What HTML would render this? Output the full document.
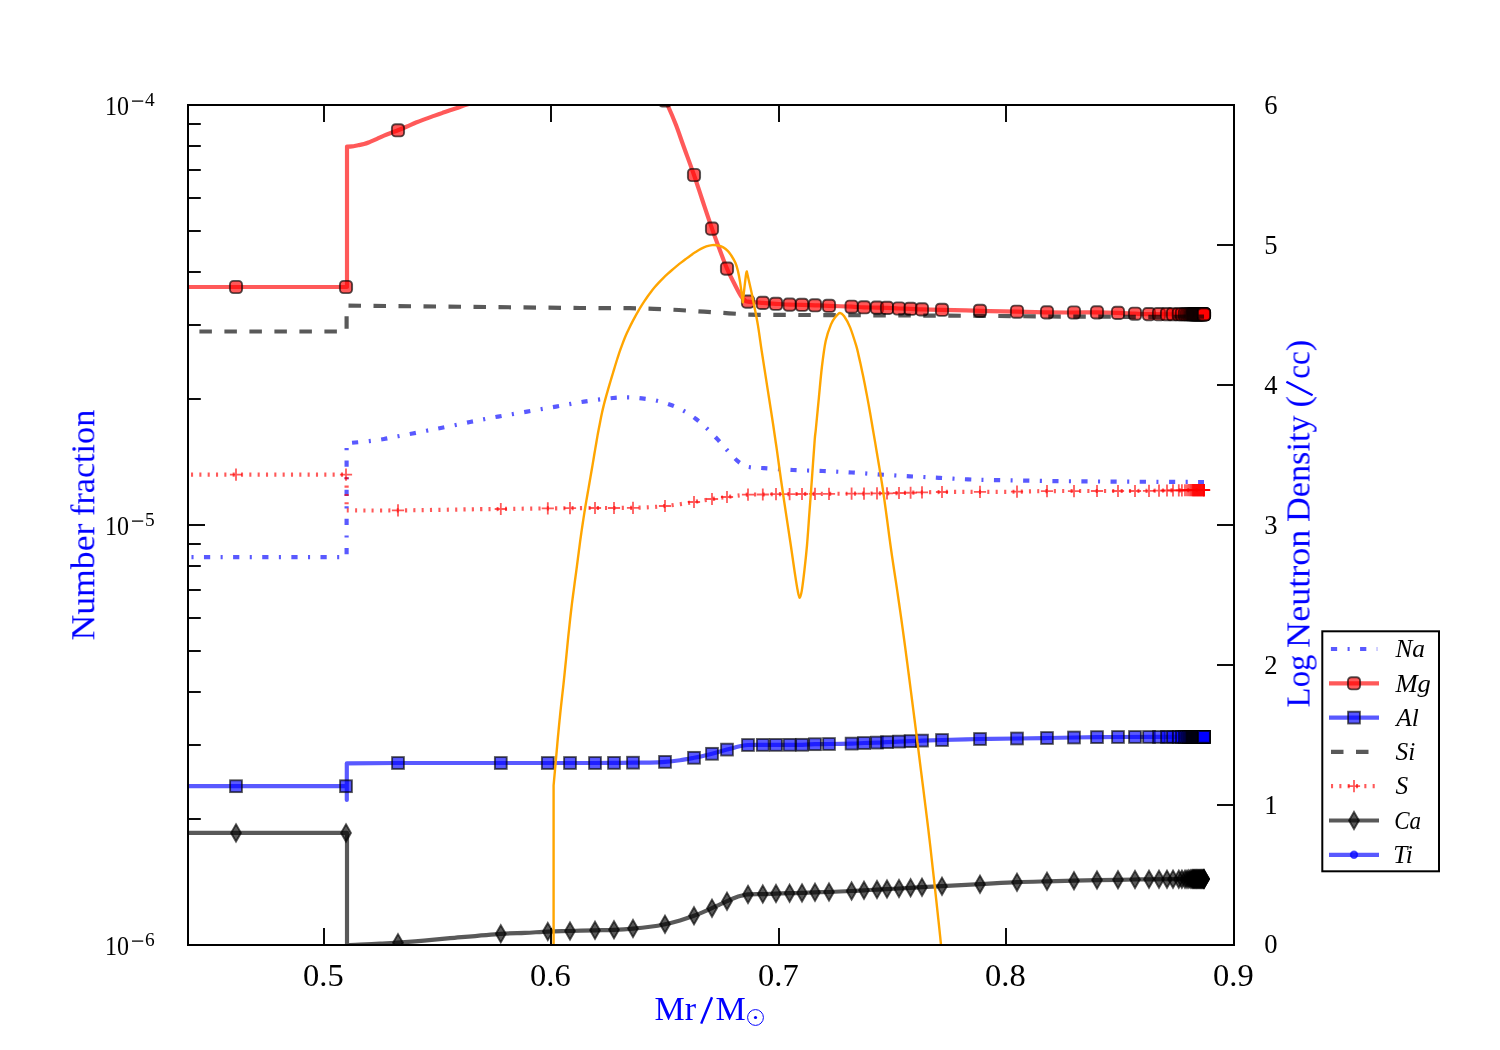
<!DOCTYPE html>
<html lang="en">
<head>
<meta charset="utf-8">
<title>Number fraction vs Mr/M</title>
<style>
html,body{margin:0;padding:0;background:#fff;}
body{width:1500px;height:1050px;overflow:hidden;font-family:"Liberation Serif",serif;}
svg{display:block;will-change:transform;}
text{font-family:"Liberation Serif",serif;}
</style>
</head>
<body>
<svg width="1500" height="1050" viewBox="0 0 1500 1050">
<rect width="1500" height="1050" fill="#fff"/>
<defs><clipPath id="ax"><rect x="188" y="105" width="1046" height="840"/></clipPath></defs>
<g clip-path="url(#ax)" fill="none" stroke-linejoin="round">
<!-- Na -->
<path d="M188,557.2L346.6,557.2L346.6,443.3C348,443.17 351.22,442.87 355,442.5C358.78,442.13 364.47,441.68 369.3,441.1C374.13,440.52 379.22,439.8 384,439C388.78,438.2 393.23,437.22 398,436.3C402.77,435.38 407.82,434.43 412.6,433.5C417.38,432.57 421.8,431.65 426.7,430.7C431.6,429.75 434.78,429.25 442,427.8C449.22,426.35 460.67,423.87 470,422C479.33,420.13 488.5,418.33 498,416.6C507.5,414.87 517.33,413.27 527,411.6C536.67,409.93 546.5,408.27 556,406.6C565.5,404.93 574.5,403.03 584,401.6C593.5,400.17 605.67,398.7 613,398C620.33,397.3 623.17,397.33 628,397.4C632.83,397.47 637.17,397.83 642,398.4C646.83,398.97 652.17,399.7 657,400.8C661.83,401.9 666.5,403.3 671,405C675.5,406.7 679.83,408.67 684,411C688.17,413.33 692.17,416.07 696,419C699.83,421.93 703.4,425.2 707,428.6C710.6,432 714.27,435.83 717.6,439.4C720.93,442.97 723.77,446.48 727,450C730.23,453.52 734.17,457.95 737,460.5C739.83,463.05 741.83,464.18 744,465.3C746.17,466.42 746.67,466.72 750,467.2C753.33,467.68 756.83,467.73 764,468.2C771.17,468.67 783.17,469.53 793,470C802.83,470.47 813.17,470.58 823,471C832.83,471.42 842.33,471.9 852,472.5C861.67,473.1 871.33,473.97 881,474.6C890.67,475.23 900.33,475.77 910,476.3C919.67,476.83 929.33,477.28 939,477.8C948.67,478.32 958.33,479.02 968,479.4C977.67,479.78 982.5,479.82 997,480.1C1011.5,480.38 1035.67,480.85 1055,481.1C1074.33,481.35 1093.5,481.47 1113,481.6C1132.5,481.73 1156.83,481.83 1172,481.9C1187.17,481.97 1198.67,481.98 1204,482" stroke="#00f" stroke-opacity="0.65" stroke-width="4.17" stroke-dasharray="6.24 10.405 2.08 10.405" stroke-dashoffset="13.17"/>
<!-- Mg -->
<path d="M186,287L347,287L347,146.6C347.83,146.57 350.17,146.63 352,146.4C353.83,146.17 356,145.58 358,145.2C360,144.82 362,144.65 364,144.1C366,143.55 367.83,142.77 370,141.9C372.17,141.03 374.67,139.93 377,138.9C379.33,137.87 381.67,136.7 384,135.7C386.33,134.7 388.67,133.8 391,132.9C393.33,132 395.33,131.37 398,130.3C400.67,129.23 404,127.8 407,126.5C410,125.2 413,123.73 416,122.5C419,121.27 422,120.2 425,119.1C428,118 431.17,116.9 434,115.9C436.83,114.9 439.33,114.03 442,113.1C444.67,112.17 447.33,111.2 450,110.3C452.67,109.4 455.17,108.65 458,107.7C460.83,106.75 463.33,105.72 467,104.6C470.67,103.48 474.5,102.43 480,101C485.5,99.57 491.67,97.83 500,96C508.33,94.17 520,91.67 530,90C540,88.33 550,86.83 560,86C570,85.17 580,84.83 590,85C600,85.17 610.83,85.83 620,87C629.17,88.17 638.67,90.42 645,92C651.33,93.58 654.67,95.08 658,96.5C661.33,97.92 663.33,98.92 665,100.5C666.67,102.08 666.17,101.92 668,106C669.83,110.08 673.42,118.33 676,125C678.58,131.67 680.5,137.67 683.5,146C686.5,154.33 690.92,166.17 694,175C697.08,183.83 699,190.07 702,199C705,207.93 709,220.02 712,228.6C715,237.18 717.5,243.83 720,250.5C722.5,257.17 724.5,262.85 727,268.6C729.5,274.35 732.67,280.43 735,285C737.33,289.57 739.33,293.45 741,296C742.67,298.55 743.83,299.37 745,300.3C746.17,301.23 745,301.17 748,301.6C751,302.03 758.33,302.53 763,302.9C767.67,303.27 771.57,303.52 776,303.8C780.43,304.08 785.27,304.43 789.6,304.6C793.93,304.77 797.77,304.68 802,304.8C806.23,304.92 810.5,305.13 815,305.3C819.5,305.47 822.9,305.57 829,305.8C835.1,306.03 845.77,306.45 851.6,306.7C857.43,306.95 859.77,307.15 864,307.3C868.23,307.45 873.17,307.5 877,307.6C880.83,307.7 883.33,307.75 887,307.9C890.67,308.05 895.07,308.35 899,308.5C902.93,308.65 906.77,308.65 910.6,308.8C914.43,308.95 916.77,309.23 922,309.4C927.23,309.57 932.33,309.57 942,309.8C951.67,310.03 967.5,310.48 980,310.8C992.5,311.12 1005.83,311.43 1017,311.7C1028.17,311.97 1037.5,312.27 1047,312.4C1056.5,312.53 1065.67,312.5 1074,312.5C1082.33,312.5 1089.67,312.33 1097,312.4C1104.33,312.47 1111.67,312.68 1118,312.9C1124.33,313.12 1129.83,313.5 1135,313.7C1140.17,313.9 1137.5,314 1149,314.1C1160.5,314.2 1194.83,314.27 1204,314.3" stroke="#f00" stroke-opacity="0.65" stroke-width="4.17"/>
<g fill="#f00" fill-opacity="0.65" stroke="#000" stroke-opacity="0.65" stroke-width="1.9"><rect x="229.9" y="280.9" width="12.2" height="12.2" rx="3.6"/><rect x="339.9" y="280.9" width="12.2" height="12.2" rx="3.6"/><rect x="391.9" y="124.2" width="12.2" height="12.2" rx="3.6"/><rect x="494.7" y="89.74" width="12.2" height="12.2" rx="3.6"/><rect x="541.7" y="81.53" width="12.2" height="12.2" rx="3.6"/><rect x="563.9" y="79.57" width="12.2" height="12.2" rx="3.6"/><rect x="588.9" y="79.23" width="12.2" height="12.2" rx="3.6"/><rect x="607.9" y="80.5" width="12.2" height="12.2" rx="3.6"/><rect x="626.9" y="83.5" width="12.2" height="12.2" rx="3.6"/><rect x="658.9" y="94.4" width="12.2" height="12.2" rx="3.6"/><rect x="687.9" y="168.9" width="12.2" height="12.2" rx="3.6"/><rect x="705.9" y="222.5" width="12.2" height="12.2" rx="3.6"/><rect x="720.9" y="262.5" width="12.2" height="12.2" rx="3.6"/><rect x="741.9" y="295.5" width="12.2" height="12.2" rx="3.6"/><rect x="756.7" y="296.78" width="12.2" height="12.2" rx="3.6"/><rect x="769.9" y="297.7" width="12.2" height="12.2" rx="3.6"/><rect x="783.5" y="298.5" width="12.2" height="12.2" rx="3.6"/><rect x="795.9" y="298.7" width="12.2" height="12.2" rx="3.6"/><rect x="808.9" y="299.2" width="12.2" height="12.2" rx="3.6"/><rect x="822.9" y="299.7" width="12.2" height="12.2" rx="3.6"/><rect x="845.5" y="300.6" width="12.2" height="12.2" rx="3.6"/><rect x="857.9" y="301.2" width="12.2" height="12.2" rx="3.6"/><rect x="870.9" y="301.5" width="12.2" height="12.2" rx="3.6"/><rect x="880.9" y="301.8" width="12.2" height="12.2" rx="3.6"/><rect x="892.9" y="302.4" width="12.2" height="12.2" rx="3.6"/><rect x="904.5" y="302.7" width="12.2" height="12.2" rx="3.6"/><rect x="915.9" y="303.3" width="12.2" height="12.2" rx="3.6"/><rect x="935.9" y="303.7" width="12.2" height="12.2" rx="3.6"/><rect x="973.9" y="304.7" width="12.2" height="12.2" rx="3.6"/><rect x="1010.9" y="305.6" width="12.2" height="12.2" rx="3.6"/><rect x="1040.9" y="306.3" width="12.2" height="12.2" rx="3.6"/><rect x="1067.9" y="306.4" width="12.2" height="12.2" rx="3.6"/><rect x="1090.9" y="306.3" width="12.2" height="12.2" rx="3.6"/><rect x="1111.9" y="306.8" width="12.2" height="12.2" rx="3.6"/><rect x="1128.9" y="307.6" width="12.2" height="12.2" rx="3.6"/><rect x="1142.9" y="308" width="12.2" height="12.2" rx="3.6"/><rect x="1152.9" y="308.04" width="12.2" height="12.2" rx="3.6"/><rect x="1160.9" y="308.07" width="12.2" height="12.2" rx="3.6"/><rect x="1166.9" y="308.09" width="12.2" height="12.2" rx="3.6"/><rect x="1172.7" y="308.11" width="12.2" height="12.2" rx="3.6"/><rect x="1175.8" y="308.12" width="12.2" height="12.2" rx="3.6"/><rect x="1178.9" y="308.13" width="12.2" height="12.2" rx="3.6"/><rect x="1180.9" y="308.14" width="12.2" height="12.2" rx="3.6"/><rect x="1182.7" y="308.14" width="12.2" height="12.2" rx="3.6"/><rect x="1184.2" y="308.15" width="12.2" height="12.2" rx="3.6"/><rect x="1185.4" y="308.15" width="12.2" height="12.2" rx="3.6"/><rect x="1186.3" y="308.16" width="12.2" height="12.2" rx="3.6"/><rect x="1186.85" y="308.16" width="12.2" height="12.2" rx="3.6"/><rect x="1187.4" y="308.16" width="12.2" height="12.2" rx="3.6"/><rect x="1187.95" y="308.16" width="12.2" height="12.2" rx="3.6"/><rect x="1188.5" y="308.17" width="12.2" height="12.2" rx="3.6"/><rect x="1189.05" y="308.17" width="12.2" height="12.2" rx="3.6"/><rect x="1189.6" y="308.17" width="12.2" height="12.2" rx="3.6"/><rect x="1190.15" y="308.17" width="12.2" height="12.2" rx="3.6"/><rect x="1190.7" y="308.17" width="12.2" height="12.2" rx="3.6"/><rect x="1191.25" y="308.18" width="12.2" height="12.2" rx="3.6"/><rect x="1191.8" y="308.18" width="12.2" height="12.2" rx="3.6"/><rect x="1192.35" y="308.18" width="12.2" height="12.2" rx="3.6"/><rect x="1192.9" y="308.18" width="12.2" height="12.2" rx="3.6"/><rect x="1193.45" y="308.18" width="12.2" height="12.2" rx="3.6"/><rect x="1194" y="308.19" width="12.2" height="12.2" rx="3.6"/><rect x="1194.55" y="308.19" width="12.2" height="12.2" rx="3.6"/><rect x="1195.1" y="308.19" width="12.2" height="12.2" rx="3.6"/><rect x="1195.65" y="308.19" width="12.2" height="12.2" rx="3.6"/><rect x="1196.2" y="308.19" width="12.2" height="12.2" rx="3.6"/><rect x="1196.75" y="308.2" width="12.2" height="12.2" rx="3.6"/><rect x="1197.3" y="308.2" width="12.2" height="12.2" rx="3.6"/><rect x="1197.9" y="308.2" width="12.2" height="12.2" rx="3.6"/><rect x="1197.9" y="308.2" width="12.2" height="12.2" rx="3.6"/><rect x="1197.9" y="308.2" width="12.2" height="12.2" rx="3.6"/><rect x="1197.9" y="308.2" width="12.2" height="12.2" rx="3.6"/></g>
<!-- Al -->
<path d="M186,786.2L346.8,786.2L346.8,800L346.8,763.4C355.33,763.33 375.8,763.07 398,763C420.2,762.93 462.87,763 480,763C497.13,763 489.5,763 500.8,763C512.1,763 532.1,763 547.8,763C563.5,763 583.97,763.02 595,763C606.03,762.98 607.67,762.95 614,762.9C620.33,762.85 627,762.75 633,762.7C639,762.65 644.67,762.73 650,762.6C655.33,762.47 660,762.3 665,761.9C670,761.5 675.17,760.88 680,760.2C684.83,759.52 690.17,758.5 694,757.8C697.83,757.1 700,756.67 703,756C706,755.33 709.17,754.53 712,753.8C714.83,753.07 717.5,752.3 720,751.6C722.5,750.9 724.5,750.3 727,749.6C729.5,748.9 732.67,748 735,747.4C737.33,746.8 738.83,746.4 741,746C743.17,745.6 744.37,745.18 748,745C751.63,744.82 758.13,744.92 762.8,744.9C767.47,744.88 769.47,744.92 776,744.9C782.53,744.88 795.5,744.92 802,744.8C808.5,744.68 810.5,744.33 815,744.2C819.5,744.07 822.9,744.1 829,744C835.1,743.9 845.77,743.77 851.6,743.6C857.43,743.43 859.77,743.17 864,743C868.23,742.83 873.17,742.75 877,742.6C880.83,742.45 883.33,742.27 887,742.1C890.67,741.93 895.07,741.77 899,741.6C902.93,741.43 906.77,741.27 910.6,741.1C914.43,740.93 916.77,740.78 922,740.6C927.23,740.42 932.33,740.27 942,740C951.67,739.73 967.5,739.25 980,739C992.5,738.75 1005.83,738.67 1017,738.5C1028.17,738.33 1037.5,738.17 1047,738C1056.5,737.83 1065.67,737.65 1074,737.5C1082.33,737.35 1089.67,737.18 1097,737.1C1104.33,737.02 1100.17,737.03 1118,737C1135.83,736.97 1189.67,736.92 1204,736.9" stroke="#00f" stroke-opacity="0.65" stroke-width="4.17"/>
<g fill="#00f" fill-opacity="0.65" stroke="#000" stroke-opacity="0.65" stroke-width="1.9" stroke-linejoin="miter"><rect x="230.1" y="780.3" width="11.8" height="11.8"/><rect x="340.1" y="780.3" width="11.8" height="11.8"/><rect x="392.1" y="757.1" width="11.8" height="11.8"/><rect x="494.9" y="757.1" width="11.8" height="11.8"/><rect x="541.9" y="757.1" width="11.8" height="11.8"/><rect x="564.1" y="757.1" width="11.8" height="11.8"/><rect x="589.1" y="757.1" width="11.8" height="11.8"/><rect x="608.1" y="757" width="11.8" height="11.8"/><rect x="627.1" y="756.8" width="11.8" height="11.8"/><rect x="659.1" y="756" width="11.8" height="11.8"/><rect x="688.1" y="751.9" width="11.8" height="11.8"/><rect x="706.1" y="747.9" width="11.8" height="11.8"/><rect x="721.1" y="743.7" width="11.8" height="11.8"/><rect x="742.1" y="739.1" width="11.8" height="11.8"/><rect x="756.9" y="739" width="11.8" height="11.8"/><rect x="770.1" y="739" width="11.8" height="11.8"/><rect x="783.7" y="738.95" width="11.8" height="11.8"/><rect x="796.1" y="738.9" width="11.8" height="11.8"/><rect x="809.1" y="738.3" width="11.8" height="11.8"/><rect x="823.1" y="738.1" width="11.8" height="11.8"/><rect x="845.7" y="737.7" width="11.8" height="11.8"/><rect x="858.1" y="737.1" width="11.8" height="11.8"/><rect x="871.1" y="736.7" width="11.8" height="11.8"/><rect x="881.1" y="736.2" width="11.8" height="11.8"/><rect x="893.1" y="735.7" width="11.8" height="11.8"/><rect x="904.7" y="735.2" width="11.8" height="11.8"/><rect x="916.1" y="734.7" width="11.8" height="11.8"/><rect x="936.1" y="734.1" width="11.8" height="11.8"/><rect x="974.1" y="733.1" width="11.8" height="11.8"/><rect x="1011.1" y="732.6" width="11.8" height="11.8"/><rect x="1041.1" y="732.1" width="11.8" height="11.8"/><rect x="1068.1" y="731.6" width="11.8" height="11.8"/><rect x="1091.1" y="731.2" width="11.8" height="11.8"/><rect x="1112.1" y="731.1" width="11.8" height="11.8"/><rect x="1129.1" y="731.08" width="11.8" height="11.8"/><rect x="1143.1" y="731.06" width="11.8" height="11.8"/><rect x="1153.1" y="731.05" width="11.8" height="11.8"/><rect x="1161.1" y="731.04" width="11.8" height="11.8"/><rect x="1167.1" y="731.04" width="11.8" height="11.8"/><rect x="1172.9" y="731.03" width="11.8" height="11.8"/><rect x="1176" y="731.03" width="11.8" height="11.8"/><rect x="1179.1" y="731.02" width="11.8" height="11.8"/><rect x="1181.1" y="731.02" width="11.8" height="11.8"/><rect x="1182.9" y="731.02" width="11.8" height="11.8"/><rect x="1184.4" y="731.02" width="11.8" height="11.8"/><rect x="1185.6" y="731.01" width="11.8" height="11.8"/><rect x="1186.5" y="731.01" width="11.8" height="11.8"/><rect x="1187.05" y="731.01" width="11.8" height="11.8"/><rect x="1187.6" y="731.01" width="11.8" height="11.8"/><rect x="1188.15" y="731.01" width="11.8" height="11.8"/><rect x="1188.7" y="731.01" width="11.8" height="11.8"/><rect x="1189.25" y="731.01" width="11.8" height="11.8"/><rect x="1189.8" y="731.01" width="11.8" height="11.8"/><rect x="1190.35" y="731.01" width="11.8" height="11.8"/><rect x="1190.9" y="731.01" width="11.8" height="11.8"/><rect x="1191.45" y="731.01" width="11.8" height="11.8"/><rect x="1192" y="731.01" width="11.8" height="11.8"/><rect x="1192.55" y="731.01" width="11.8" height="11.8"/><rect x="1193.1" y="731.01" width="11.8" height="11.8"/><rect x="1193.65" y="731.01" width="11.8" height="11.8"/><rect x="1194.2" y="731" width="11.8" height="11.8"/><rect x="1194.75" y="731" width="11.8" height="11.8"/><rect x="1195.3" y="731" width="11.8" height="11.8"/><rect x="1195.85" y="731" width="11.8" height="11.8"/><rect x="1196.4" y="731" width="11.8" height="11.8"/><rect x="1196.95" y="731" width="11.8" height="11.8"/><rect x="1197.5" y="731" width="11.8" height="11.8"/><rect x="1198.1" y="731" width="11.8" height="11.8"/><rect x="1198.1" y="731" width="11.8" height="11.8"/><rect x="1198.1" y="731" width="11.8" height="11.8"/><rect x="1198.1" y="731" width="11.8" height="11.8"/></g>
<!-- Si -->
<path d="M199.4,331.5L346.6,331.5L346.6,305.6L580,308L630,308.2L654,308.8L679,310L704,311.7L729,313.3L748,314.6L760,314.8L980,315.8L1050,316.5L1150,316.9L1204,316.6" stroke="#000" stroke-opacity="0.65" stroke-width="4.17" stroke-dasharray="12.5 12.5"/>
<!-- S -->
<path d="M191,474.6L346.6,474.6L346.6,510.4C355.17,510.4 375.77,510.6 398,510.4C420.23,510.2 462.87,509.43 480,509.2C497.13,508.97 489.5,509.13 500.8,509C512.1,508.87 536.27,508.53 547.8,508.4C559.33,508.27 562.13,508.27 570,508.2C577.87,508.13 587.67,508.03 595,508C602.33,507.97 607.67,508.03 614,508C620.33,507.97 627,507.93 633,507.8C639,507.67 644.67,507.5 650,507.2C655.33,506.9 660,506.5 665,506C670,505.5 675.17,504.87 680,504.2C684.83,503.53 688.67,502.87 694,502C699.33,501.13 706.5,499.83 712,499C717.5,498.17 722.33,497.6 727,497C731.67,496.4 736.5,495.8 740,495.4C743.5,495 744.17,494.75 748,494.6C751.83,494.45 758.33,494.57 763,494.5C767.67,494.43 765,494.32 776,494.2C787,494.08 816.4,493.88 829,493.8C841.6,493.72 841.93,493.78 851.6,493.7C861.27,493.62 871.93,493.58 887,493.3C902.07,493.02 926.5,492.23 942,492C957.5,491.77 967.5,491.95 980,491.9C992.5,491.85 1005.83,491.83 1017,491.7C1028.17,491.57 1033.67,491.22 1047,491.1C1060.33,490.98 1085.17,491.02 1097,491C1108.83,490.98 1111.67,491 1118,491C1124.33,491 1129.83,491.03 1135,491C1140.17,490.97 1142.67,490.9 1149,490.8C1155.33,490.7 1163.83,490.52 1173,490.4C1182.17,490.27 1198.83,490.11 1204,490.05" stroke="#f00" stroke-opacity="0.65" stroke-width="4.17" stroke-dasharray="2.08 6.25"/>
<g stroke="#f00" stroke-opacity="0.65" stroke-width="1.8"><path d="M229.9,474.6H242.1M236,468.5V480.7"/><path d="M339.9,474.6H352.1M346,468.5V480.7"/><path d="M391.9,510.4H404.1M398,504.3V516.5"/><path d="M494.7,509H506.9M500.8,502.9V515.1"/><path d="M541.7,508.4H553.9M547.8,502.3V514.5"/><path d="M563.9,508.2H576.1M570,502.1V514.3"/><path d="M588.9,508H601.1M595,501.9V514.1"/><path d="M607.9,508H620.1M614,501.9V514.1"/><path d="M626.9,507.8H639.1M633,501.7V513.9"/><path d="M658.9,506H671.1M665,499.9V512.1"/><path d="M687.9,502H700.1M694,495.9V508.1"/><path d="M705.9,499H718.1M712,492.9V505.1"/><path d="M720.9,497H733.1M727,490.9V503.1"/><path d="M741.9,494.6H754.1M748,488.5V500.7"/><path d="M756.7,494.5H768.9M762.8,488.4V500.6"/><path d="M769.9,494.2H782.1M776,488.1V500.3"/><path d="M783.5,494.1H795.7M789.6,488V500.2"/><path d="M795.9,494H808.1M802,487.9V500.1"/><path d="M808.9,493.91H821.1M815,487.81V500.01"/><path d="M822.9,493.8H835.1M829,487.7V499.9"/><path d="M845.5,493.7H857.7M851.6,487.6V499.8"/><path d="M857.9,493.56H870.1M864,487.46V499.66"/><path d="M870.9,493.41H883.1M877,487.31V499.51"/><path d="M880.9,493.3H893.1M887,487.2V499.4"/><path d="M892.9,493.02H905.1M899,486.92V499.12"/><path d="M904.5,492.74H916.7M910.6,486.64V498.84"/><path d="M915.9,492.47H928.1M922,486.37V498.57"/><path d="M935.9,492H948.1M942,485.9V498.1"/><path d="M973.9,491.9H986.1M980,485.8V498"/><path d="M1010.9,491.7H1023.1M1017,485.6V497.8"/><path d="M1040.9,491.1H1053.1M1047,485V497.2"/><path d="M1067.9,491.05H1080.1M1074,484.95V497.15"/><path d="M1090.9,491H1103.1M1097,484.9V497.1"/><path d="M1111.9,491H1124.1M1118,484.9V497.1"/><path d="M1128.9,491H1141.1M1135,484.9V497.1"/><path d="M1142.9,490.8H1155.1M1149,484.7V496.9"/><path d="M1152.9,490.63H1165.1M1159,484.53V496.73"/><path d="M1160.9,490.5H1173.1M1167,484.4V496.6"/><path d="M1166.9,490.4H1179.1M1173,484.3V496.5"/><path d="M1172.7,490.33H1184.9M1178.8,484.23V496.43"/><path d="M1175.8,490.3H1188M1181.9,484.2V496.4"/><path d="M1178.9,490.26H1191.1M1185,484.16V496.36"/><path d="M1180.9,490.24H1193.1M1187,484.14V496.34"/><path d="M1182.7,490.22H1194.9M1188.8,484.12V496.32"/><path d="M1184.2,490.2H1196.4M1190.3,484.1V496.3"/><path d="M1185.4,490.19H1197.6M1191.5,484.09V496.29"/><path d="M1186.3,490.18H1198.5M1192.4,484.08V496.28"/><path d="M1186.85,490.17H1199.05M1192.95,484.07V496.27"/><path d="M1187.4,490.17H1199.6M1193.5,484.07V496.27"/><path d="M1187.95,490.16H1200.15M1194.05,484.06V496.26"/><path d="M1188.5,490.16H1200.7M1194.6,484.06V496.26"/><path d="M1189.05,490.15H1201.25M1195.15,484.05V496.25"/><path d="M1189.6,490.14H1201.8M1195.7,484.04V496.24"/><path d="M1190.15,490.14H1202.35M1196.25,484.04V496.24"/><path d="M1190.7,490.13H1202.9M1196.8,484.03V496.23"/><path d="M1191.25,490.13H1203.45M1197.35,484.03V496.23"/><path d="M1191.8,490.12H1204M1197.9,484.02V496.22"/><path d="M1192.35,490.11H1204.55M1198.45,484.01V496.21"/><path d="M1192.9,490.11H1205.1M1199,484.01V496.21"/><path d="M1193.45,490.1H1205.65M1199.55,484V496.2"/><path d="M1194,490.09H1206.2M1200.1,483.99V496.19"/><path d="M1194.55,490.09H1206.75M1200.65,483.99V496.19"/><path d="M1195.1,490.08H1207.3M1201.2,483.98V496.18"/><path d="M1195.65,490.08H1207.85M1201.75,483.98V496.18"/><path d="M1196.2,490.07H1208.4M1202.3,483.97V496.17"/><path d="M1196.75,490.06H1208.95M1202.85,483.96V496.16"/><path d="M1197.3,490.06H1209.5M1203.4,483.96V496.16"/><path d="M1197.9,490.05H1210.1M1204,483.95V496.15"/><path d="M1197.9,490.05H1210.1M1204,483.95V496.15"/><path d="M1197.9,490.05H1210.1M1204,483.95V496.15"/><path d="M1197.9,490.05H1210.1M1204,483.95V496.15"/></g>
<!-- Ca -->
<path d="M186,832.9L347,832.9L347,945.3C349.17,945.17 354.5,944.77 360,944.5C365.5,944.23 373.67,944 380,943.7C386.33,943.4 390.67,943.22 398,942.7C405.33,942.18 415.33,941.35 424,940.6C432.67,939.85 437.2,939.33 450,938.2C462.8,937.07 488.3,934.68 500.8,933.8C513.3,932.92 517.17,933.27 525,932.9C532.83,932.53 540.3,931.92 547.8,931.6C555.3,931.28 562.13,931.22 570,931C577.87,930.78 587.67,930.5 595,930.3C602.33,930.1 607.67,930.08 614,929.8C620.33,929.52 627,929.1 633,928.6C639,928.1 644.67,927.53 650,926.8C655.33,926.07 660,925.27 665,924.2C670,923.13 675.17,921.8 680,920.4C684.83,919 690.17,917.17 694,915.8C697.83,914.43 700,913.47 703,912.2C706,910.93 709.17,909.5 712,908.2C714.83,906.9 717.5,905.57 720,904.4C722.5,903.23 724.5,902.3 727,901.2C729.5,900.1 732.67,898.7 735,897.8C737.33,896.9 738.83,896.37 741,895.8C743.17,895.23 744.37,894.68 748,894.4C751.63,894.12 758.13,894.23 762.8,894.1C767.47,893.97 771.53,893.75 776,893.6C780.47,893.45 785.27,893.32 789.6,893.2C793.93,893.08 797.77,893.05 802,892.9C806.23,892.75 810.5,892.45 815,892.3C819.5,892.15 822.9,892.22 829,892C835.1,891.78 845.77,891.28 851.6,891C857.43,890.72 859.77,890.53 864,890.3C868.23,890.07 873.17,889.8 877,889.6C880.83,889.4 883.33,889.28 887,889.1C890.67,888.92 895.07,888.72 899,888.5C902.93,888.28 906.77,888.02 910.6,887.8C914.43,887.58 916.77,887.47 922,887.2C927.23,886.93 932.33,886.7 942,886.2C951.67,885.7 967.5,884.87 980,884.2C992.5,883.53 1005.83,882.68 1017,882.2C1028.17,881.72 1037.5,881.55 1047,881.3C1056.5,881.05 1065.67,880.9 1074,880.7C1082.33,880.5 1089.67,880.25 1097,880.1C1104.33,879.95 1111.67,879.9 1118,879.8C1124.33,879.7 1129.83,879.58 1135,879.5C1140.17,879.42 1137.5,879.38 1149,879.3C1160.5,879.22 1194.83,879.09 1204,879.05" stroke="#000" stroke-opacity="0.65" stroke-width="4.17"/>
<g fill="#000" fill-opacity="0.65" stroke="#000" stroke-opacity="0.65" stroke-width="1.9" stroke-linejoin="miter"><path d="M236,824.3L240.95,832.9L236,841.5L231.05,832.9Z"/><path d="M346,824.3L350.95,832.9L346,841.5L341.05,832.9Z"/><path d="M398,934.1L402.95,942.7L398,951.3L393.05,942.7Z"/><path d="M500.8,925.2L505.75,933.8L500.8,942.4L495.85,933.8Z"/><path d="M547.8,923L552.75,931.6L547.8,940.2L542.85,931.6Z"/><path d="M570,922.4L574.95,931L570,939.6L565.05,931Z"/><path d="M595,921.7L599.95,930.3L595,938.9L590.05,930.3Z"/><path d="M614,921.2L618.95,929.8L614,938.4L609.05,929.8Z"/><path d="M633,920L637.95,928.6L633,937.2L628.05,928.6Z"/><path d="M665,915.6L669.95,924.2L665,932.8L660.05,924.2Z"/><path d="M694,907.2L698.95,915.8L694,924.4L689.05,915.8Z"/><path d="M712,899.6L716.95,908.2L712,916.8L707.05,908.2Z"/><path d="M727,892.6L731.95,901.2L727,909.8L722.05,901.2Z"/><path d="M748,885.8L752.95,894.4L748,903L743.05,894.4Z"/><path d="M762.8,885.5L767.75,894.1L762.8,902.7L757.85,894.1Z"/><path d="M776,885L780.95,893.6L776,902.2L771.05,893.6Z"/><path d="M789.6,884.6L794.55,893.2L789.6,901.8L784.65,893.2Z"/><path d="M802,884.3L806.95,892.9L802,901.5L797.05,892.9Z"/><path d="M815,883.7L819.95,892.3L815,900.9L810.05,892.3Z"/><path d="M829,883.4L833.95,892L829,900.6L824.05,892Z"/><path d="M851.6,882.4L856.55,891L851.6,899.6L846.65,891Z"/><path d="M864,881.7L868.95,890.3L864,898.9L859.05,890.3Z"/><path d="M877,881L881.95,889.6L877,898.2L872.05,889.6Z"/><path d="M887,880.5L891.95,889.1L887,897.7L882.05,889.1Z"/><path d="M899,879.9L903.95,888.5L899,897.1L894.05,888.5Z"/><path d="M910.6,879.2L915.55,887.8L910.6,896.4L905.65,887.8Z"/><path d="M922,878.6L926.95,887.2L922,895.8L917.05,887.2Z"/><path d="M942,877.6L946.95,886.2L942,894.8L937.05,886.2Z"/><path d="M980,875.6L984.95,884.2L980,892.8L975.05,884.2Z"/><path d="M1017,873.6L1021.95,882.2L1017,890.8L1012.05,882.2Z"/><path d="M1047,872.7L1051.95,881.3L1047,889.9L1042.05,881.3Z"/><path d="M1074,872.1L1078.95,880.7L1074,889.3L1069.05,880.7Z"/><path d="M1097,871.5L1101.95,880.1L1097,888.7L1092.05,880.1Z"/><path d="M1118,871.2L1122.95,879.8L1118,888.4L1113.05,879.8Z"/><path d="M1135,870.9L1139.95,879.5L1135,888.1L1130.05,879.5Z"/><path d="M1149,870.7L1153.95,879.3L1149,887.9L1144.05,879.3Z"/><path d="M1159,870.65L1163.95,879.25L1159,887.85L1154.05,879.25Z"/><path d="M1167,870.62L1171.95,879.22L1167,887.82L1162.05,879.22Z"/><path d="M1173,870.59L1177.95,879.19L1173,887.79L1168.05,879.19Z"/><path d="M1178.8,870.56L1183.75,879.16L1178.8,887.76L1173.85,879.16Z"/><path d="M1181.9,870.55L1186.85,879.15L1181.9,887.75L1176.95,879.15Z"/><path d="M1185,870.54L1189.95,879.14L1185,887.74L1180.05,879.14Z"/><path d="M1187,870.53L1191.95,879.13L1187,887.73L1182.05,879.13Z"/><path d="M1188.8,870.52L1193.75,879.12L1188.8,887.72L1183.85,879.12Z"/><path d="M1190.3,870.51L1195.25,879.11L1190.3,887.71L1185.35,879.11Z"/><path d="M1191.5,870.51L1196.45,879.11L1191.5,887.71L1186.55,879.11Z"/><path d="M1192.4,870.5L1197.35,879.1L1192.4,887.7L1187.45,879.1Z"/><path d="M1192.95,870.5L1197.9,879.1L1192.95,887.7L1188,879.1Z"/><path d="M1193.5,870.5L1198.45,879.1L1193.5,887.7L1188.55,879.1Z"/><path d="M1194.05,870.5L1199,879.1L1194.05,887.7L1189.1,879.1Z"/><path d="M1194.6,870.49L1199.55,879.09L1194.6,887.69L1189.65,879.09Z"/><path d="M1195.15,870.49L1200.1,879.09L1195.15,887.69L1190.2,879.09Z"/><path d="M1195.7,870.49L1200.65,879.09L1195.7,887.69L1190.75,879.09Z"/><path d="M1196.25,870.49L1201.2,879.09L1196.25,887.69L1191.3,879.09Z"/><path d="M1196.8,870.48L1201.75,879.08L1196.8,887.68L1191.85,879.08Z"/><path d="M1197.35,870.48L1202.3,879.08L1197.35,887.68L1192.4,879.08Z"/><path d="M1197.9,870.48L1202.85,879.08L1197.9,887.68L1192.95,879.08Z"/><path d="M1198.45,870.48L1203.4,879.08L1198.45,887.68L1193.5,879.08Z"/><path d="M1199,870.47L1203.95,879.07L1199,887.67L1194.05,879.07Z"/><path d="M1199.55,870.47L1204.5,879.07L1199.55,887.67L1194.6,879.07Z"/><path d="M1200.1,870.47L1205.05,879.07L1200.1,887.67L1195.15,879.07Z"/><path d="M1200.65,870.47L1205.6,879.07L1200.65,887.67L1195.7,879.07Z"/><path d="M1201.2,870.46L1206.15,879.06L1201.2,887.66L1196.25,879.06Z"/><path d="M1201.75,870.46L1206.7,879.06L1201.75,887.66L1196.8,879.06Z"/><path d="M1202.3,870.46L1207.25,879.06L1202.3,887.66L1197.35,879.06Z"/><path d="M1202.85,870.46L1207.8,879.06L1202.85,887.66L1197.9,879.06Z"/><path d="M1203.4,870.45L1208.35,879.05L1203.4,887.65L1198.45,879.05Z"/><path d="M1204,870.45L1208.95,879.05L1204,887.65L1199.05,879.05Z"/><path d="M1204,870.45L1208.95,879.05L1204,887.65L1199.05,879.05Z"/><path d="M1204,870.45L1208.95,879.05L1204,887.65L1199.05,879.05Z"/><path d="M1204,870.45L1208.95,879.05L1204,887.65L1199.05,879.05Z"/></g>
<!-- neutron density -->
<path d="M553.6,947L553.6,785.3C553.69,784.31 553.96,781.34 554.14,779.35C554.33,777.37 554.51,775.39 554.69,773.41C554.87,771.43 555.04,769.44 555.22,767.46C555.4,765.48 555.58,763.5 555.76,761.51C555.93,759.53 556.11,757.55 556.29,755.57C556.47,753.58 556.65,751.6 556.82,749.62C557,747.64 557.17,745.65 557.34,743.67C557.52,741.69 557.7,739.71 557.88,737.72C558.06,735.74 558.25,733.76 558.44,731.78C558.62,729.8 558.81,727.82 559.01,725.83C559.2,723.85 559.4,721.87 559.6,719.89C559.8,717.91 560.01,715.93 560.21,713.95C560.42,711.97 560.62,710 560.83,708.02C561.04,706.04 561.25,704.06 561.47,702.08C561.69,700.1 561.91,698.12 562.14,696.15C562.36,694.17 562.6,692.19 562.82,690.21C563.04,688.23 563.26,686.26 563.47,684.28C563.68,682.3 563.89,680.32 564.09,678.34C564.3,676.36 564.5,674.38 564.71,672.4C564.91,670.42 565.11,668.44 565.31,666.46C565.51,664.48 565.71,662.5 565.91,660.52C566.1,658.54 566.3,656.56 566.5,654.58C566.69,652.6 566.89,650.62 567.09,648.63C567.29,646.65 567.48,644.67 567.67,642.69C567.87,640.71 568.06,638.73 568.26,636.75C568.47,634.77 568.68,632.79 568.89,630.81C569.1,628.83 569.31,626.85 569.53,624.88C569.74,622.9 569.95,620.92 570.17,618.94C570.39,616.96 570.61,614.98 570.84,613C571.06,611.03 571.3,609.05 571.53,607.07C571.77,605.1 572.01,603.12 572.26,601.15C572.51,599.17 572.77,597.2 573.03,595.23C573.29,593.25 573.56,591.28 573.82,589.31C574.08,587.34 574.34,585.36 574.6,583.39C574.87,581.42 575.13,579.44 575.4,577.47C575.67,575.5 575.94,573.53 576.2,571.56C576.47,569.58 576.73,567.61 576.99,565.64C577.25,563.66 577.51,561.69 577.76,559.72C578.01,557.74 578.26,555.77 578.52,553.79C578.77,551.82 579.03,549.84 579.29,547.87C579.55,545.9 579.81,543.92 580.07,541.95C580.34,539.98 580.6,538.01 580.88,536.04C581.15,534.07 581.44,532.1 581.72,530.13C582.01,528.16 582.3,526.19 582.6,524.22C582.9,522.25 583.2,520.28 583.5,518.32C583.81,516.35 584.12,514.38 584.43,512.42C584.74,510.45 585.06,508.49 585.38,506.52C585.7,504.56 586.03,502.6 586.37,500.64C586.7,498.67 587.05,496.71 587.4,494.75C587.74,492.79 588.09,490.83 588.43,488.87C588.77,486.91 589.1,484.95 589.44,482.99C589.78,481.03 590.12,479.07 590.46,477.1C590.79,475.14 591.13,473.18 591.47,471.22C591.81,469.26 592.15,467.3 592.49,465.34C592.82,463.38 593.15,461.41 593.48,459.45C593.81,457.49 594.13,455.52 594.46,453.56C594.79,451.6 595.13,449.63 595.46,447.67C595.8,445.71 596.13,443.75 596.47,441.79C596.8,439.82 597.13,437.86 597.48,435.9C597.82,433.94 598.19,431.98 598.56,430.03C598.93,428.07 599.32,426.12 599.7,424.17C600.08,422.21 600.45,420.25 600.84,418.3C601.23,416.35 601.62,414.39 602.05,412.45C602.48,410.51 602.94,408.57 603.42,406.64C603.89,404.71 604.38,402.78 604.88,400.86C605.39,398.94 605.91,397.02 606.45,395.1C606.98,393.19 607.54,391.28 608.09,389.37C608.65,387.46 609.21,385.55 609.78,383.64C610.35,381.73 610.92,379.83 611.49,377.92C612.06,376.02 612.64,374.11 613.22,372.2C613.79,370.29 614.35,368.38 614.92,366.47C615.5,364.57 616.09,362.66 616.68,360.76C617.28,358.86 617.88,356.96 618.51,355.07C619.13,353.19 619.79,351.31 620.45,349.44C621.11,347.57 621.79,345.7 622.49,343.84C623.19,341.99 623.9,340.13 624.65,338.29C625.4,336.45 626.18,334.63 627,332.82C627.81,331.01 628.66,329.21 629.53,327.42C630.4,325.63 631.29,323.86 632.2,322.09C633.12,320.32 634.05,318.56 635.01,316.81C635.97,315.06 636.95,313.33 637.95,311.61C638.95,309.89 639.98,308.17 641.03,306.48C642.07,304.78 643.14,303.1 644.24,301.44C645.33,299.77 646.45,298.12 647.59,296.5C648.74,294.87 649.9,293.26 651.11,291.69C652.31,290.11 653.56,288.56 654.84,287.05C656.12,285.54 657.45,284.06 658.81,282.6C660.16,281.15 661.55,279.73 662.97,278.33C664.39,276.94 665.85,275.57 667.32,274.22C668.78,272.88 670.27,271.56 671.77,270.25C673.28,268.95 674.82,267.68 676.36,266.41C677.91,265.15 679.45,263.89 681.02,262.66C682.59,261.42 684.17,260.21 685.77,259C687.37,257.8 688.98,256.59 690.62,255.43C692.26,254.26 693.92,253.11 695.62,252.02C697.33,250.93 699.05,249.81 700.84,248.87C702.63,247.93 704.47,247 706.35,246.38C708.23,245.75 710.2,245.3 712.11,245.14C714.02,244.98 715.94,245.05 717.8,245.43C719.66,245.81 721.56,246.47 723.26,247.42C724.95,248.37 726.57,249.69 727.96,251.12C729.35,252.55 730.33,253.99 731.6,256C732.87,258.01 734.53,260.67 735.6,263.2C736.67,265.73 737.27,268.13 738,271.2C738.73,274.27 739.4,278 740,281.6C740.6,285.2 741.13,289.33 741.6,292.8C742.07,296.27 742.6,300.8 742.8,302.4C743.07,300 743.87,292.63 744.4,288C744.93,283.37 745.6,277.37 746,274.6C746.4,271.83 746.67,271.93 746.8,271.4C747,272.3 747.3,273.7 748,276.8C748.7,279.9 749.98,285.25 751,290C752.02,294.75 752.95,299.45 754.1,305.3C755.25,311.15 756.63,317.48 757.9,325.1C759.17,332.72 760.43,342.62 761.7,351C762.97,359.38 764.23,367.27 765.5,375.4C766.77,383.53 768.03,391.67 769.3,399.8C770.57,407.93 772.08,417.5 773.1,424.2C774.12,430.9 774.77,435.68 775.4,440C776.03,444.32 775.95,443.35 776.9,450.1C777.85,456.85 779.6,470.03 781.1,480.5C782.6,490.97 784.28,502.1 785.9,512.9C787.52,523.7 789.32,535.32 790.8,545.3C792.28,555.28 793.65,565.25 794.8,572.8C795.95,580.35 796.88,586.42 797.7,590.6C798.52,594.78 799.02,597.9 799.7,597.9C800.38,597.9 801,595.32 801.8,590.6C802.6,585.88 803.63,577.15 804.5,569.6C805.37,562.05 806.18,554.75 807,545.3C807.82,535.85 808.6,523.7 809.4,512.9C810.2,502.1 810.92,492.65 811.8,480.5C812.68,468.35 814.03,448.5 814.7,440C815.37,431.5 815.1,436.58 815.8,429.5C816.5,422.42 817.88,407.92 818.9,397.5C819.92,387.08 820.77,376.42 821.9,367C823.03,357.58 824.18,348.1 825.7,341C827.22,333.9 829.35,328.43 831,324.4C832.65,320.37 834.12,318.7 835.6,316.8C837.08,314.9 838.5,313.13 839.9,313C841.3,312.87 842.3,313.6 844,316C845.7,318.4 848.07,322.45 850.1,327.4C852.13,332.35 854.78,341.04 856.2,345.7C857.62,350.36 857.83,352.14 858.59,355.37C859.36,358.6 860.06,361.85 860.78,365.09C861.49,368.33 862.18,371.58 862.86,374.83C863.53,378.08 864.19,381.33 864.83,384.59C865.47,387.84 866.1,391.1 866.72,394.36C867.34,397.62 867.94,400.89 868.54,404.15C869.13,407.42 869.72,410.69 870.29,413.96C870.85,417.23 871.39,420.51 871.95,423.78C872.51,427.05 873.07,430.33 873.63,433.6C874.19,436.87 874.76,440.14 875.31,443.42C875.86,446.69 876.4,449.97 876.95,453.24C877.5,456.51 878.05,459.79 878.6,463.06C879.15,466.34 879.7,469.61 880.24,472.89C880.78,476.16 881.32,479.44 881.84,482.72C882.35,486 882.86,489.28 883.35,492.56C883.83,495.85 884.28,499.13 884.74,502.42C885.2,505.71 885.66,509 886.1,512.29C886.55,515.58 886.97,518.87 887.41,522.16C887.84,525.45 888.27,528.75 888.71,532.04C889.15,535.33 889.57,538.62 890.02,541.91C890.47,545.2 890.93,548.49 891.4,551.77C891.87,555.06 892.36,558.34 892.85,561.63C893.34,564.91 893.84,568.19 894.34,571.47C894.84,574.76 895.35,578.04 895.85,581.32C896.34,584.6 896.82,587.89 897.3,591.17C897.78,594.46 898.26,597.74 898.73,601.03C899.21,604.31 899.68,607.6 900.15,610.89C900.62,614.17 901.09,617.46 901.55,620.75C902.01,624.04 902.47,627.32 902.92,630.61C903.38,633.9 903.83,637.19 904.27,640.48C904.72,643.77 905.15,647.06 905.59,650.35C906.02,653.64 906.45,656.94 906.89,660.23C907.32,663.52 907.76,666.81 908.18,670.1C908.61,673.39 909.03,676.69 909.46,679.98C909.88,683.27 910.3,686.57 910.73,689.86C911.15,693.15 911.58,696.44 912,699.74C912.43,703.03 912.85,706.32 913.27,709.61C913.7,712.91 914.12,716.2 914.54,719.49C914.96,722.79 915.38,726.08 915.8,729.37C916.21,732.67 916.63,735.96 917.04,739.26C917.46,742.55 917.87,745.84 918.29,749.14C918.7,752.43 919.12,755.72 919.53,759.02C919.94,762.31 920.35,765.61 920.76,768.9C921.18,772.2 921.6,775.49 922.02,778.78C922.44,782.08 922.85,785.37 923.27,788.66C923.68,791.96 924.09,795.25 924.5,798.55C924.91,801.84 925.32,805.13 925.73,808.43C926.15,811.72 926.56,815.02 926.97,818.31C927.37,821.61 927.77,824.9 928.17,828.2C928.56,831.5 928.96,834.79 929.34,838.09C929.73,841.39 930.11,844.69 930.48,847.98C930.85,851.28 931.22,854.58 931.58,857.88C931.95,861.18 932.32,864.48 932.69,867.78C933.06,871.08 933.43,874.38 933.8,877.68C934.16,880.98 934.53,884.28 934.89,887.58C935.25,890.88 935.61,894.18 935.97,897.48C936.33,900.78 936.69,904.08 937.05,907.38C937.4,910.68 937.76,913.98 938.11,917.28C938.47,920.58 938.82,923.88 939.18,927.18C939.53,930.48 939.91,933.78 940.24,937.09C940.58,940.39 941.04,945.35 941.2,947" stroke="#ffa500" stroke-width="2.4"/>
</g>
<!-- axes frame + ticks -->
<rect x="188" y="105" width="1046" height="840" fill="none" stroke="#000" stroke-width="2"/>
<g stroke="#000" stroke-width="1.9" fill="none"><path d="M324,945V928M324,105V122"/><path d="M551,945V928M551,105V122"/><path d="M779,945V928M779,105V122"/><path d="M1006,945V928M1006,105V122"/><path d="M188,819H200.8"/><path d="M188,745H200.8"/><path d="M188,692H200.8"/><path d="M188,651H200.8"/><path d="M188,618H200.8"/><path d="M188,590H200.8"/><path d="M188,566H200.8"/><path d="M188,544H200.8"/><path d="M188,525H205"/><path d="M188,399H200.8"/><path d="M188,325H200.8"/><path d="M188,272H200.8"/><path d="M188,231H200.8"/><path d="M188,198H200.8"/><path d="M188,170H200.8"/><path d="M188,146H200.8"/><path d="M188,124H200.8"/><path d="M1234,805H1217"/><path d="M1234,665H1217"/><path d="M1234,525H1217"/><path d="M1234,385H1217"/><path d="M1234,245H1217"/></g>
<g fill="#000" opacity="0.999"><text x="323.4" y="986" font-size="32.5" text-anchor="middle">0.5</text><text x="550.4" y="986" font-size="32.5" text-anchor="middle">0.6</text><text x="778.4" y="986" font-size="32.5" text-anchor="middle">0.7</text><text x="1005.4" y="986" font-size="32.5" text-anchor="middle">0.8</text><text x="1233.4" y="986" font-size="32.5" text-anchor="middle">0.9</text><text x="105" y="115.2" font-size="26.6" textLength="24" lengthAdjust="spacingAndGlyphs">10</text><path d="M132,101.1H143.2" stroke="#000" stroke-width="1.3" fill="none"/><text x="145" y="106.2" font-size="19.4">4</text><text x="105" y="535.2" font-size="26.6" textLength="24" lengthAdjust="spacingAndGlyphs">10</text><path d="M132,521.1H143.2" stroke="#000" stroke-width="1.3" fill="none"/><text x="145" y="526.2" font-size="19.4">5</text><text x="105" y="955.2" font-size="26.6" textLength="24" lengthAdjust="spacingAndGlyphs">10</text><path d="M132,941.1H143.2" stroke="#000" stroke-width="1.3" fill="none"/><text x="145" y="946.2" font-size="19.4">6</text><text x="1271" y="953.1" font-size="26.6" text-anchor="middle">0</text><text x="1271" y="813.9" font-size="26.6" text-anchor="middle">1</text><text x="1271" y="673.9" font-size="26.6" text-anchor="middle">2</text><text x="1271" y="533.9" font-size="26.6" text-anchor="middle">3</text><text x="1271" y="393.9" font-size="26.6" text-anchor="middle">4</text><text x="1271" y="253.9" font-size="26.6" text-anchor="middle">5</text><text x="1271" y="113.9" font-size="26.6" text-anchor="middle">6</text></g>
<!-- axis labels -->
<g fill="#00f" font-size="34.7" opacity="0.999">
<g transform="translate(94.3,0) rotate(-90)">
<text x="-640.6" y="0" textLength="117" lengthAdjust="spacingAndGlyphs">Number</text>
<text x="-516" y="0" textLength="106.3" lengthAdjust="spacingAndGlyphs">fraction</text>
</g>
<g transform="translate(1309.5,0) rotate(-90)">
<text x="-707.4" y="0" textLength="52.8" lengthAdjust="spacingAndGlyphs">Log</text>
<text x="-647.9" y="0" textLength="118.3" lengthAdjust="spacingAndGlyphs">Neutron</text>
<text x="-522" y="0" textLength="106.6" lengthAdjust="spacingAndGlyphs">Density</text>
<text x="-407.5" y="0">(</text>
<text x="-378.8" y="0" textLength="27.6" lengthAdjust="spacingAndGlyphs">cc</text>
<text x="-351.2" y="0">)</text>
</g>
<path d="M1312.6,395.2L1286.4,381.8" stroke="#00f" stroke-width="2.4" fill="none"/>
<text x="654.6" y="1020.4" font-size="34">Mr</text>
<path d="M701.2,1023.6L712,997.2" stroke="#00f" stroke-width="2.45" fill="none"/>
<text x="715.4" y="1020.4" font-size="34">M</text>
<circle cx="755.5" cy="1017.5" r="7.9" fill="none" stroke="#00f" stroke-width="1"/>
<circle cx="755.5" cy="1017.5" r="1.6" fill="#00f"/>
</g>
<!-- legend -->
<g opacity="0.999"><rect x="1322.3" y="631.3" width="116.7" height="240" fill="#fff" stroke="#000" stroke-width="2"/><path d="M1330.9,649H1377.3" stroke="#00f" stroke-opacity="0.65" stroke-width="4.17" stroke-dasharray="6.25 10.42 2.08 10.42" fill="none"/><path d="M1329,683.3H1379" stroke="#f00" stroke-opacity="0.65" stroke-width="4.17" fill="none"/><g fill="#f00" fill-opacity="0.65" stroke="#000" stroke-opacity="0.65" stroke-width="1.9"><rect x="1347.9" y="677.2" width="12.2" height="12.2" rx="3.6"/></g><path d="M1329,717.6H1379" stroke="#00f" stroke-opacity="0.65" stroke-width="4.17" fill="none"/><g fill="#00f" fill-opacity="0.65" stroke="#000" stroke-opacity="0.65" stroke-width="1.9"><rect x="1348.1" y="711.7" width="11.8" height="11.8"/></g><path d="M1331,751.9H1379" stroke="#000" stroke-opacity="0.65" stroke-width="4.17" stroke-dasharray="12.5 12.5" fill="none"/><path d="M1331,786.2H1379" stroke="#f00" stroke-opacity="0.65" stroke-width="4.17" stroke-dasharray="2.08 6.25" fill="none"/><g fill="none" stroke="#f00" stroke-opacity="0.65" stroke-width="1.8"><path d="M1347.9,786.2H1360.1M1354,780.1V792.3"/></g><path d="M1329,820.5H1379" stroke="#000" stroke-opacity="0.65" stroke-width="4.17" fill="none"/><g fill="#000" fill-opacity="0.65" stroke="#000" stroke-opacity="0.65" stroke-width="1.9"><path d="M1354,811.9L1358.95,820.5L1354,829.1L1349.05,820.5Z"/></g><path d="M1329,854.8H1379" stroke="#00f" stroke-opacity="0.65" stroke-width="4.17" fill="none"/><circle cx="1354" cy="854.8" r="3.4" fill="#00f" fill-opacity="0.65" stroke="#00f" stroke-opacity="0.65" stroke-width="1.6"/><text x="1395.5" y="657.2" font-size="25.3" font-style="italic">Na</text><text x="1395.5" y="691.5" font-size="25.3" font-style="italic" textLength="35.4" lengthAdjust="spacingAndGlyphs">Mg</text><text x="1396.2" y="725.8" font-size="25.3" font-style="italic">Al</text><text x="1395.5" y="760.1" font-size="25.3" font-style="italic">Si</text><text x="1395.5" y="794.4" font-size="25.3" font-style="italic">S</text><text x="1394.2" y="828.7" font-size="25.3" font-style="italic" textLength="26.8" lengthAdjust="spacingAndGlyphs">Ca</text><text x="1393.2" y="863" font-size="25.3" font-style="italic">Ti</text></g>
</svg>
</body>
</html>
